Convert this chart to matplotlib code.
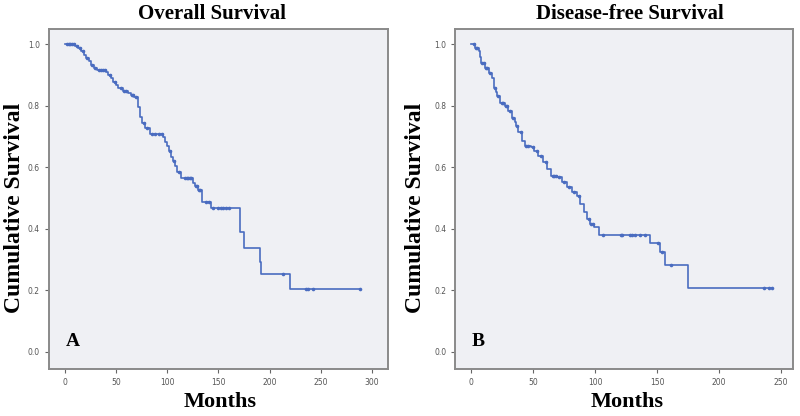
import numpy as np
import matplotlib
matplotlib.use("Agg")
import matplotlib.pyplot as plt

# Kaplan-Meier steps (time in months, survival after the event)
os_times = [0, 10, 13, 16, 19, 21, 24, 26, 29, 31, 40, 42, 45, 47, 50, 52, 57, 62, 65, 68,
            72, 73, 75, 78, 83, 96, 98, 100, 102, 104, 106, 108, 110, 114, 125, 127, 130,
            134, 143, 171, 175, 191, 192, 220]
os_surv = [1.0, 0.995, 0.988, 0.978, 0.967, 0.957, 0.945, 0.933, 0.924, 0.917, 0.910, 0.902,
           0.890, 0.879, 0.868, 0.857, 0.850, 0.843, 0.836, 0.830, 0.795, 0.765, 0.743, 0.727,
           0.710, 0.700, 0.684, 0.670, 0.655, 0.635, 0.620, 0.605, 0.586, 0.564, 0.548, 0.538,
           0.527, 0.489, 0.467, 0.389, 0.339, 0.292, 0.253, 0.203]
os_censor = [2, 4, 5, 7, 9, 12, 15, 18, 22, 27, 30, 33, 35, 37, 39, 44, 49, 55, 58, 60, 66,
             67, 70, 77, 80, 85, 88, 92, 95, 103, 107, 112, 117, 119, 120, 122, 123, 128, 129,
             131, 132, 138, 141, 145, 150, 153, 155, 157, 160, 213, 236, 238, 242, 288]

dfs_times = [0, 3, 6, 7, 8, 11, 14, 17, 18, 20, 21, 23, 27, 30, 33, 35, 36, 38, 41, 43, 48,
             51, 54, 58, 61, 64, 69, 73, 77, 81, 85, 88, 91, 93, 96, 99, 103, 144, 152, 156, 175]
dfs_surv = [1.0, 0.99, 0.978, 0.96, 0.94, 0.924, 0.908, 0.89, 0.86, 0.845, 0.832, 0.81, 0.8,
            0.784, 0.762, 0.748, 0.735, 0.714, 0.686, 0.67, 0.665, 0.654, 0.638, 0.616, 0.595,
            0.573, 0.568, 0.551, 0.535, 0.519, 0.508, 0.481, 0.454, 0.432, 0.416, 0.405, 0.381,
            0.353, 0.324, 0.281, 0.209]
dfs_censor = [2, 4, 5, 9, 10, 12, 13, 15, 19, 22, 25, 26, 28, 29, 31, 34, 37, 40, 44, 46, 50,
              53, 56, 60, 66, 67, 68, 71, 75, 79, 83, 87, 95, 97, 98, 106, 121, 122, 128, 130,
              132, 136, 140, 151, 154, 161, 236, 240, 243]

panels = [
    dict(times=os_times, surv=os_surv, censor=os_censor, title="Overall Survival", tag="A",
         xticks=[0, 50, 100, 150, 200, 250, 300], xlim=(-15.6, 315.7),
         pos=[0.061, 0.113, 0.424, 0.817], title_x=212 / 800, ylab_x=15 / 800, xlab_x=220 / 800),
    dict(times=dfs_times, surv=dfs_surv, censor=dfs_censor, title="Disease-free Survival", tag="B",
         xticks=[0, 50, 100, 150, 200, 250], xlim=(-12.9, 259.7),
         pos=[0.569, 0.113, 0.4225, 0.817], title_x=630 / 800, ylab_x=415 / 800, xlab_x=627 / 800),
]

line_col = "#4a6cc0"
serif = ["Liberation Serif", "DejaVu Serif"]

fig = plt.figure(figsize=(8, 4.16), dpi=100)
for p in panels:
    ax = fig.add_axes(p["pos"])
    ax.set_facecolor("#eff0f4")
    t = np.array(p["times"], dtype=float)
    s = np.array(p["surv"])
    c = np.array(p["censor"], dtype=float)
    t_end = max(t.max(), c.max())
    ax.step(np.append(t, t_end), np.append(s, s[-1]), where="post", color=line_col, lw=1.2)
    cy = s[np.searchsorted(t, c, side="right") - 1]
    ax.plot(c, cy, "o", color=line_col, ms=2.6, mew=0)
    ax.set_xlim(*p["xlim"])
    ax.set_ylim(-0.056, 1.05)
    ax.set_xticks(p["xticks"])
    ax.set_yticks([0.0, 0.2, 0.4, 0.6, 0.8, 1.0])
    ax.set_yticklabels(["0.0", "0.2", "0.4", "0.6", "0.8", "1.0"])
    ax.tick_params(labelsize=5.5, labelcolor="#555555", color="#666666", length=3, width=0.8)
    for sp in ax.spines.values():
        sp.set_color("#8a8a8a")
        sp.set_linewidth(1.4)
    ax.text(0.05, 0.08, p["tag"], transform=ax.transAxes, fontsize=14, fontweight="bold",
            family=serif, va="center", ha="left")
    fig.text(p["title_x"], 1 - 14 / 416, p["title"], fontsize=15, fontweight="bold",
             family=serif, ha="center", va="center")
    fig.text(p["ylab_x"], 0.5, "Cumulative Survival", rotation=90, fontsize=17,
             fontweight="bold", family=serif, ha="center", va="center")
    fig.text(p["xlab_x"], 4 / 416, "Months", fontsize=16, fontweight="bold",
             family=serif, ha="center", va="bottom")

fig.savefig("out.png", dpi=100)
